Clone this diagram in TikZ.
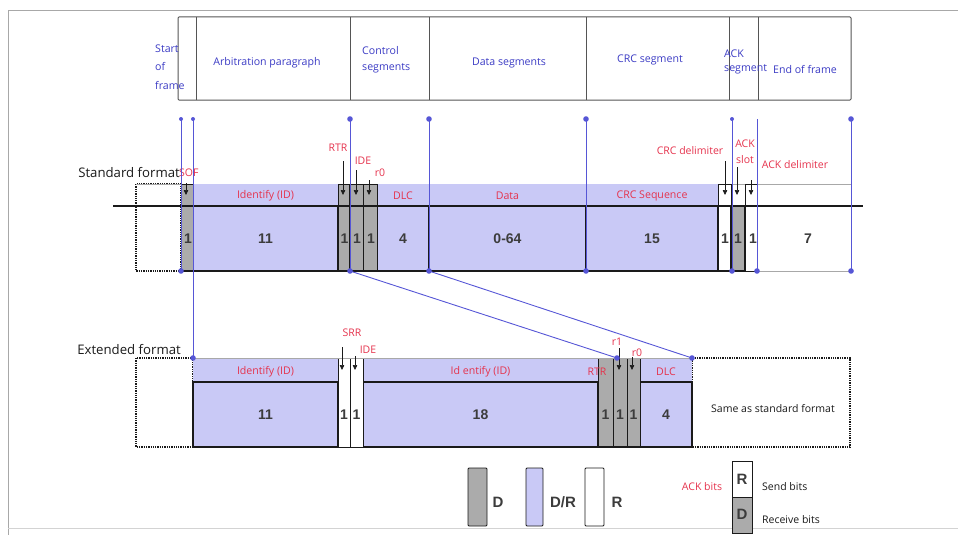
\documentclass[tikz,border=0pt]{standalone}
\usepackage{fontspec}
\setmainfont{Open Sans}
\newfontfamily\numfont{Liberation Sans}
\usetikzlibrary{arrows.meta,positioning,calc}
\definecolor{ink}{HTML}{1A1A1A}
\definecolor{frm}{HTML}{A8A8A8}
\definecolor{hln}{HTML}{555555}
\definecolor{hb}{HTML}{3B3BC4}
\definecolor{ln}{HTML}{5656D6}
\definecolor{drf}{HTML}{C9C9F6}
\definecolor{ddf}{HTML}{ABABAB}
\definecolor{rd}{HTML}{E5334D}
\definecolor{nm}{HTML}{3C3C3C}
\tikzset{
  hdr/.style={font=\fontsize{10.6}{12}\selectfont,text=hb,inner sep=1pt},
  fmt/.style={font=\fontsize{13.2}{15}\selectfont,text=ink,inner sep=1pt},
  lab/.style={font=\fontsize{10.5}{12}\selectfont,text=rd,inner sep=1pt},
  fld/.style={font=\fontsize{10.6}{12}\selectfont,text=rd,inner sep=1pt},
  num/.style={font=\numfont\bfseries\fontsize{14}{16}\selectfont,text=nm,inner sep=0pt},
  key/.style={font=\numfont\bfseries\fontsize{15}{17}\selectfont,text=nm,inner sep=0pt},
  txt/.style={font=\fontsize{10.5}{12}\selectfont,text=ink,inner sep=1pt},
  hline/.style={draw=hln,line width=1pt},
  dbit/.style={fill=ddf,draw=ink,line width=0.8pt},
  rbit/.style={fill=white,draw=ink,line width=0.8pt},
  drbox/.style={fill=drf,draw=ink,line width=1.8pt},
  dotbox/.style={draw=ink,line width=1.3pt,densely dotted},
  guide/.style={draw=ln,line width=0.9pt},
  pin/.style={-{Triangle[length=5pt,width=4.5pt]},line width=0.6pt,ink}
}

\begin{document}
\begin{tikzpicture}[x=1pt,y=-1pt]
\useasboundingbox (0,0) rectangle (958,535);
% ================= frame =================
\draw[frm,line width=0.8pt] (8,535) -- (8,10) -- (958,10);
\draw[frm!50,line width=0.6pt] (8,528) -- (958,528);
% ================= field header =================
\draw[hline,rounded corners=1pt] (178,17) rectangle (851,100);
\foreach \x in {196,350,429,586,729,758} \draw[hline] (\x,17) -- (\x,100);
\node[hdr,anchor=west,align=left,font=\fontsize{10.6}{18.5}\selectfont] (hsof) at (154,67) {Start\\of\\frame};
\node[hdr] (harb) at (267,63) {Arbitration paragraph};
\node[hdr,anchor=west,align=left,font=\fontsize{10.6}{16}\selectfont] (hctl) at (361,60) {Control\\segments};
\node[hdr] (hdat) at (509,63) {Data segments};
\node[hdr] (hcrc) at (650,60) {CRC segment};
\node[hdr,anchor=west,align=left,font=\fontsize{10.6}{14}\selectfont] (hack) at (723,62) {ACK\\segment};
\node[hdr] (heof) at (805,69) {End of frame};
% ================= standard format =================
\node[fmt,anchor=east] (sfmt) at (181,173) {Standard format};
\node[lab,anchor=west] (lsof) at (178,173) {SOF};
\draw[dotbox] (136,184) rectangle (181,271);
\draw[frm,line width=0.7pt] (136,184) -- (851,184);
\draw[frm,line width=0.7pt] (745,271) -- (851,271);
\foreach \a/\b/\t/\n/\nm in {193/338/Identify (ID)/11/sid, 377/429/DLC/4/sdlc, 429/586/Data/0-64/sdat, 586/718/CRC Sequence/15/scrc}{
  \fill[drf] (\a,184) rectangle (\b,206);
  \draw[drbox] (\a,206) rectangle (\b,271);
  \node[fld] (\nm f) at ({(\a+\b)/2},196) {\t};
  \node[num] (\nm n) at ({(\a+\b)/2},239) {\n};}
\foreach \a/\b/\nm in {181/193/ssof, 338/349/srtr, 349/363/side, 363/377/sr0}{
  \draw[dbit] (\a,184) rectangle (\b,271);
  \node[num] (\nm n) at ({(\a+\b)/2+1},239) {1};}
\draw[rbit] (718,184) rectangle (731,271);
\draw[rbit] (745,184) rectangle (757,271);
\draw[dbit,line width=1.6pt] (731,206) rectangle (745,271);
\node[num] (scdn) at (725,239) {1};
\node[num] (sasn) at (738,239) {1};
\node[num] (sadn) at (753,239) {1};
\node[num] (seofn) at (808,239) {7};
\draw[ink,line width=2.2pt] (113,206) -- (863,206);
\draw[ink,line width=1.8pt] (181,271) -- (745,271);
% labels and pointers
\node[lab] (lrtr) at (338,148) {RTR};
\node[lab] (lide) at (363,161) {IDE};
\node[lab] (lr0) at (380,173) {r0};
\node[lab] (lcrcd) at (690,151) {CRC delimiter};
\node[lab,align=center,font=\fontsize{10.5}{16}\selectfont] (lslot) at (745,152) {ACK\\slot};
\node[lab] (lackd) at (795,165) {ACK delimiter};
\foreach \x/\ya/\nm in {186/183/psof, 343/161/prtr, 356/170/pide, 369/180/pr0, 725/161/pcrc, 737/167/pslot, 751/180/pdel}{
  \coordinate (\nm t) at (\x,\ya); \coordinate (\nm b) at (\x,195);
  \draw[pin] (\nm t) -- (\nm b);}
% ================= extended format =================
\node[fmt,anchor=east] (xfmt) at (182,350) {Extended format};
\draw[dotbox] (136,358) rectangle (193,447);
\draw[dotbox] (692,358) rectangle (850,447);
\node[txt] (xsame) at (773,409) {Same as standard format};
\foreach \a/\b/\t/\n/\nm in {193/338/Identify (ID)/11/xid, 363/598/Id entify (ID)/18/xid2, 640/692/DLC/4/xdlc}{
  \fill[drf] (\a,358) rectangle (\b,382);
  \draw[drbox] (\a,382) rectangle (\b,447);
  \node[fld] (\nm f) at ({(\a+\b)/2},372) {\t};
  \node[num] (\nm n) at ({(\a+\b)/2},415) {\n};}
\foreach \a/\b/\nm in {338/350/xsrr, 350/363/xide}{
  \draw[rbit] (\a,358) rectangle (\b,447);
  \node[num] (\nm n) at ({(\a+\b)/2},415) {1};}
\foreach \a/\b/\nm in {598/613/xrtr, 613/627/xr1, 627/640/xr0}{
  \draw[dbit] (\a,358) rectangle (\b,447);
  \node[num] (\nm n) at ({(\a+\b)/2},415) {1};}
\draw[frm,line width=0.7pt] (193,358) -- (692,358);
\draw[ink,line width=1.8pt] (598,447) -- (640,447);
\node[lab] (lsrr) at (352,333) {SRR};
\node[lab] (lxide) at (368,350) {IDE};
\node[lab] (lxrtr) at (597,372) {RTR};
\node[lab] (lr1) at (617,342) {r1};
\node[lab] (lxr0) at (637,353) {r0};
\foreach \x/\ya/\nm in {342/347/qsrr, 355/356/qide, 619/348/qr1, 632/357/qr0}{
  \coordinate (\nm t) at (\x,\ya); \coordinate (\nm b) at (\x,370);
  \draw[pin] (\nm t) -- (\nm b);}
% ================= guides =================
\foreach \x/\nm in {181/gsof, 193/gid, 350/gide, 429/gdat, 586/gcrc, 732/gack, 757/geof, 851/gend}{
  \coordinate (\nm t) at (\x,119); \coordinate (\nm b) at (\x,271);}
\coordinate (gidx) at (193,358);
\coordinate (gr1x) at (617,358);
\coordinate (gdlcx) at (692,358);
\foreach \nm in {gsof, gide, gdat, gcrc, gack, geof, gend} \draw[guide] (\nm t) -- (\nm b);
\draw[guide] (gidt) -- (gidx);
\draw[guide] (gideb) -- (gr1x);
\draw[guide] (gdatb) -- (gdlcx);
\foreach \p in {gsoft, gidt, gackt} \fill[ln] (\p) circle (2);
\foreach \p in {gidet, gdatt, gcrct, gendt, gsofb, gideb, gdatb, gcrcb, gackb, geofb, gendb, gidx, gr1x, gdlcx} \fill[ln] (\p) circle (2.8);
% ================= legend =================
\draw[dbit,rounded corners=1pt] (468,468) rectangle (487,526);
\draw[drbox,line width=0.8pt,rounded corners=1pt] (526,468) rectangle (543,526);
\draw[rbit,rounded corners=1pt] (585,468) rectangle (604,526);
\node[key] (kd) at (498,502) {D};
\node[key] (kdr) at (563,502) {D/R};
\node[key] (kr) at (617,502) {R};
\node[lab] (kack) at (702,487) {ACK bits};
\draw[rbit] (732,461) rectangle (752,497);
\draw[dbit] (732,497) rectangle (752,533);
\node[key] (kar) at (742,479) {R};
\node[key] (kad) at (742,514) {D};
\node[txt,anchor=west] (ksend) at (761,487) {Send bits};
\node[txt,anchor=west] (krecv) at (761,520) {Receive bits};
\end{tikzpicture}
\end{document}
